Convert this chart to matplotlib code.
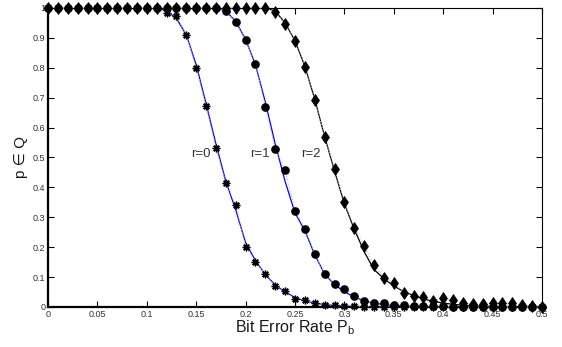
#!/usr/bin/env python3
"""Probabilidad p en Q frente a la tasa de error de bit, r = 0, 1, 2."""

import numpy as np
import matplotlib
matplotlib.use("Agg")
import matplotlib.pyplot as plt

plt.rcParams["font.family"] = ["Liberation Sans", "DejaVu Sans"]
plt.rcParams["mathtext.fontset"] = "custom"
plt.rcParams["mathtext.rm"] = "Liberation Sans"

# Tasa de error de bit (simulación y teoría en la misma rejilla)
pb = np.round(np.arange(0, 51) * 0.01, 2)

# Simulación (marcadores)
sim_r0 = [1] * 12 + [0.984, 0.973, 0.91, 0.80, 0.672, 0.533, 0.414, 0.341, 0.202,
                     0.152, 0.109, 0.071, 0.053, 0.026, 0.022, 0.012, 0.008, 0.005,
                     0.003, 0.002, 0.001] + [0] * 18
sim_r1 = [1] * 18 + [0.991, 0.953, 0.893, 0.813, 0.670, 0.527, 0.458, 0.321, 0.261,
                     0.176, 0.110, 0.076, 0.060, 0.038, 0.020, 0.015, 0.012, 0.008,
                     0.007, 0.004, 0.003, 0.002, 0.002, 0.001, 0.001] + [0] * 8
sim_r2 = [1] * 23 + [0.988, 0.945, 0.890, 0.804, 0.692, 0.570, 0.460, 0.350, 0.265,
                     0.204, 0.140, 0.098, 0.081, 0.048, 0.037, 0.032, 0.021, 0.029,
                     0.023, 0.014, 0.009, 0.009, 0.012, 0.012, 0.012, 0.007, 0.002,
                     0.0]

# Teoría (líneas continuas)
th_r0 = [1] * 12 + [0.99, 0.965, 0.91, 0.81, 0.68, 0.545, 0.42, 0.325, 0.215,
                    0.155, 0.108, 0.074, 0.05, 0.032, 0.02, 0.013, 0.008, 0.005,
                    0.003, 0.002, 0.001] + [0] * 18
th_r1 = [1] * 18 + [0.99, 0.955, 0.895, 0.81, 0.685, 0.545, 0.42, 0.315, 0.255,
                    0.175, 0.11, 0.075, 0.051, 0.033, 0.021, 0.013, 0.008, 0.005,
                    0.003, 0.002, 0.001] + [0] * 12
th_r2 = [1] * 23 + [0.99, 0.95, 0.89, 0.805, 0.695, 0.57, 0.455, 0.345, 0.26,
                    0.185, 0.125, 0.095, 0.07, 0.052, 0.038, 0.027, 0.019, 0.013,
                    0.009, 0.006, 0.004, 0.003, 0.002, 0.001] + [0] * 4

labels = ["r=0", "r=1", "r=2"]
label_x = [0.155, 0.2146, 0.266]
label_y = 0.513


def main():
    fig = plt.figure(figsize=(5.62, 3.47), dpi=100)
    ax = fig.add_axes([0.0854, 0.1153, 0.879, 0.8617])

    # simulación (línea punteada gris + marcadores negros)
    ax.plot(pb, sim_r0, linestyle=":", color="0.7", linewidth=0.8,
            marker=(8, 2, 0), markersize=5.5, markeredgecolor="black",
            markeredgewidth=1.0, clip_on=False, zorder=3)
    ax.plot(pb, sim_r1, linestyle=":", color="0.7", linewidth=0.8,
            marker="o", markersize=5.2, markerfacecolor="black",
            markeredgecolor="black", clip_on=False, zorder=3)
    ax.plot(pb, sim_r2, linestyle=":", color="0.7", linewidth=0.8,
            marker="d", markersize=6, markerfacecolor="black",
            markeredgecolor="black", markeredgewidth=0.5, clip_on=False,
            zorder=4)

    # líneas teóricas
    ax.plot(pb, th_r0, color="blue", linewidth=0.9, zorder=2.5)
    ax.plot(pb, th_r1, color="blue", linewidth=0.9, zorder=2.5)
    ax.plot(pb, th_r2, color="black", linewidth=0.9, zorder=2.5)

    for txt, x in zip(labels, label_x):
        ax.text(x, label_y, txt, fontsize=9.5, ha="center", va="center",
                color="0.2")

    ax.set_xlim(0, 0.5)
    ax.set_ylim(0, 1)
    ax.set_xticks(np.round(np.arange(0, 0.51, 0.05), 2))
    ax.set_xticklabels(["0", "0.05", "0.1", "0.15", "0.2", "0.25", "0.3",
                        "0.35", "0.4", "0.45", "0.5"])
    ax.set_yticks(np.round(np.arange(0, 1.01, 0.1), 1))
    ax.set_yticklabels(["0", "0.1", "0.2", "0.3", "0.4", "0.5", "0.6", "0.7",
                        "0.8", "0.9", "1"])
    ax.tick_params(direction="in", top=True, right=True, labelsize=6.5,
                   length=4, width=0.8, pad=2, labelcolor="0.2")

    ax.set_xlabel("Bit Error Rate P$_\\mathrm{b}$", fontsize=11.5, labelpad=0,
                  color="0.1")
    ax.set_ylabel("p \u2208 Q", fontsize=11, labelpad=3, color="0.1")

    ax.spines["left"].set_linewidth(1.6)
    ax.spines["bottom"].set_linewidth(1.6)
    ax.spines["top"].set_linewidth(0.8)
    ax.spines["right"].set_linewidth(0.8)

    fig.savefig("out.png", dpi=100)


if __name__ == "__main__":
    main()
